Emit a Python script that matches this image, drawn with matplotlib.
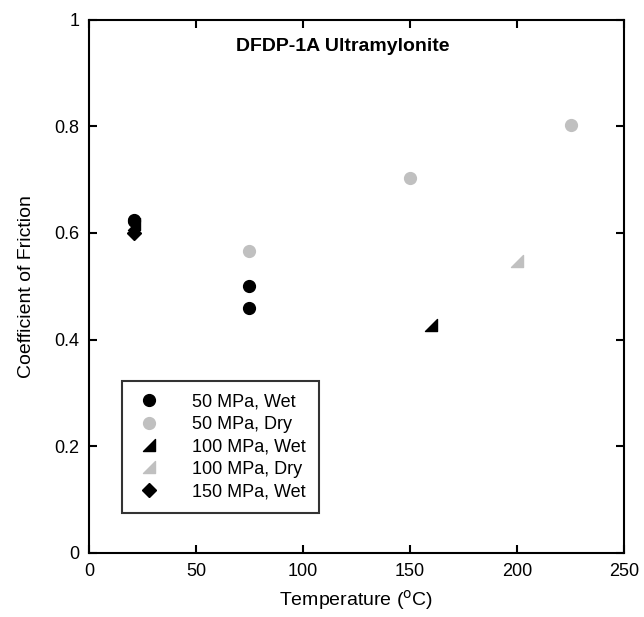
import numpy as np
import matplotlib.pyplot as plt
from matplotlib.path import Path

plt.rcParams['font.family'] = ['Liberation Sans', 'DejaVu Sans']

# Data
wet50_t = [21, 21, 75, 75]
wet50_mu = [0.625, 0.622, 0.50, 0.46]
dry50_t = [75, 150, 225]
dry50_mu = [0.567, 0.703, 0.803]
wet100_t = [21, 160]
wet100_mu = [0.617, 0.428]
dry100_t = [200]
dry100_mu = [0.547]
wet150_t = [21]
wet150_mu = [0.60]

gray = '#c0c0c0'
# right triangle marker (right angle at lower right)
tri = Path([(-1, -1), (1, -1), (1, 1), (-1, -1)], closed=True)

fig = plt.figure(figsize=(6.44, 6.17), dpi=100)
ax = fig.add_axes([0.138, 0.104, 0.831, 0.864])

ax.plot(wet100_t, wet100_mu, linestyle='none', marker=tri, color='black', markersize=8, label='100 MPa, Wet')
ax.plot(wet50_t, wet50_mu, linestyle='none', marker='o', color='black', markersize=8.5, label='50 MPa, Wet')
ax.plot(dry50_t, dry50_mu, linestyle='none', marker='o', color=gray, markersize=8.5, label='50 MPa, Dry')
ax.plot(dry100_t, dry100_mu, linestyle='none', marker=tri, color=gray, markersize=8, label='100 MPa, Dry')
ax.plot(wet150_t, wet150_mu, linestyle='none', marker='D', color='black', markersize=7, label='150 MPa, Wet')

ax.set_xlim(0, 250)
ax.set_ylim(0, 1)
ax.set_xticks([0, 50, 100, 150, 200, 250])
ax.set_yticks([0, 0.2, 0.4, 0.6, 0.8, 1])
ax.set_yticklabels(['0', '0.2', '0.4', '0.6', '0.8', '1'])
ax.tick_params(direction='in', top=True, right=True, length=6, width=1.5, labelsize=13, pad=7)
for s in ax.spines.values():
    s.set_linewidth(1.5)

ax.set_xlabel('Temperature ($^{\\mathrm{o}}$C)', fontsize=14, labelpad=6)
ax.set_ylabel('Coefficient of Friction', fontsize=14, labelpad=14)
ax.text(0.475, 0.95, 'DFDP-1A Ultramylonite', transform=ax.transAxes, ha='center',
        va='center', fontsize=14, fontweight='bold')

h, l = ax.get_legend_handles_labels()
order = [1, 2, 0, 3, 4]
leg = ax.legend([h[i] for i in order], [l[i] for i in order], loc='lower left',
                bbox_to_anchor=(0.062, 0.075), fontsize=13, frameon=True, fancybox=False,
                edgecolor='black', handlelength=1.6, handletextpad=1.6, borderpad=0.7,
                borderaxespad=0, labelspacing=0.3)
leg.get_frame().set_linewidth(1.5)

fig.savefig('out.png', dpi=100)
